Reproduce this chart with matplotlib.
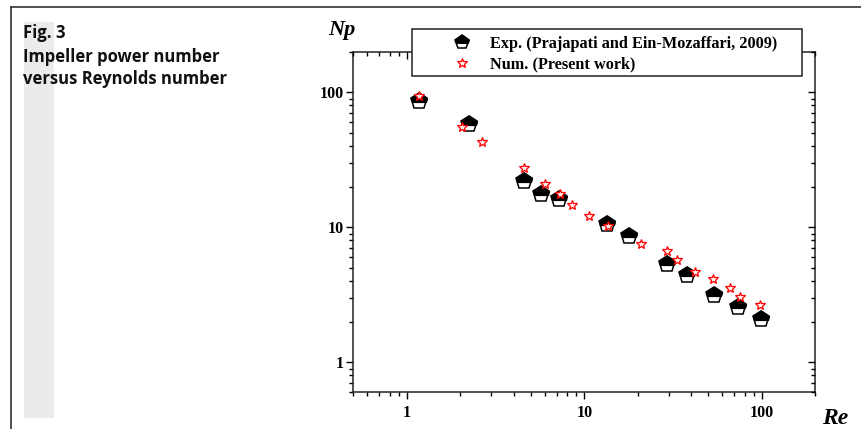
import matplotlib
matplotlib.use("Agg")
import matplotlib.pyplot as plt
from matplotlib.lines import Line2D
from matplotlib.patches import Rectangle
from matplotlib.path import Path
from matplotlib.legend_handler import HandlerTuple
from matplotlib.ticker import LogLocator, NullFormatter, FixedLocator, FixedFormatter

# ---- data ----
exp_re = [1.17, 2.24, 4.59, 5.68, 7.21, 13.35, 17.8, 29.1, 38.0, 53.8, 73.0, 99.3]
exp_np = [85.6, 58.5, 22.1, 17.7, 16.1, 10.6, 8.66, 5.31, 4.42, 3.14, 2.55, 2.11]

num_re = [1.17, 2.06, 2.66, 4.57, 6.03, 7.31, 8.51, 10.6, 13.6, 20.9, 29.1, 33.4,
          41.8, 53.4, 65.8, 75.5, 97.5]
num_np = [93.3, 54.9, 43.2, 27.6, 21.1, 17.6, 14.6, 12.2, 10.2, 7.52, 6.63, 5.75,
          4.63, 4.17, 3.54, 3.07, 2.66]

x_ticks = [1, 10, 100]
x_ticklabels = ["1", "10", "100"]
y_ticks = [1, 10, 100]
y_ticklabels = ["1", "10", "100"]

exp_label = "Exp. (Prajapati and Ein-Mozaffari, 2009)"
num_label = "Num. (Present work)"
title_lines = ["Fig. 3", "Impeller power number", "versus Reynolds number"]

W, H = 861, 429
fig = plt.figure(figsize=(W / 100, H / 100), dpi=100)

def fx(px):
    return px / W

def fy(py):
    return 1 - py / H

# outer frame lines and grey bar
fig.add_artist(Line2D([fx(11), 1.0], [fy(7.3), fy(7.3)], transform=fig.transFigure,
                      color="#333333", lw=1.2))
fig.add_artist(Line2D([fx(11), fx(11)], [fy(7.3), 0.0], transform=fig.transFigure,
                      color="#333333", lw=1.2))
fig.add_artist(Rectangle((fx(24), fy(418)), fx(54) - fx(24), fy(22) - fy(418),
                         transform=fig.transFigure, facecolor="#ebebeb",
                         edgecolor="none", zorder=0))

# title block
title_font = ["Open Sans", "DejaVu Sans"]
for line, base in zip(title_lines, [38.3, 61.7, 84.0]):
    fig.text(fx(23), fy(base), line, fontsize=12.0, fontweight="bold",
             family=title_font, va="baseline", ha="left", color="#111111")

# half-filled pentagon: white pentagon + black upper part
cut = -0.1
top_part = Path([(0, 1), (-0.951, 0.309), (-0.818, cut), (0.818, cut),
                 (0.951, 0.309), (0, 1)],
                [Path.MOVETO, Path.LINETO, Path.LINETO, Path.LINETO,
                 Path.LINETO, Path.CLOSEPOLY])

# axes
left, right, top, bottom = 353.3, 815.3, 51.7, 392.3
ax = fig.add_axes([fx(left), fy(bottom), fx(right) - fx(left), fy(top) - fy(bottom)])
ax.set_xscale("log")
ax.set_yscale("log")
ax.set_xlim(0.5, 200)
ax.set_ylim(0.6, 200)

serif = ["Liberation Serif", "DejaVu Serif"]
pent_ms = 12
star_ms = 7.8

ax.plot(exp_re, exp_np, linestyle="none", marker="p", markersize=pent_ms,
        markerfacecolor="white", markeredgecolor="black", markeredgewidth=1.1,
        zorder=3)
ax.plot(exp_re, exp_np, linestyle="none", marker=top_part, markersize=pent_ms,
        markerfacecolor="black", markeredgecolor="black", markeredgewidth=1.1,
        zorder=3)
ax.plot(num_re, num_np, linestyle="none", marker="*", markersize=star_ms,
        markerfacecolor="#fff0f0", markeredgecolor="red", markeredgewidth=0.9,
        zorder=4)

ax.xaxis.set_major_locator(FixedLocator(x_ticks))
ax.xaxis.set_major_formatter(FixedFormatter(x_ticklabels))
ax.yaxis.set_major_locator(FixedLocator(y_ticks))
ax.yaxis.set_major_formatter(FixedFormatter(y_ticklabels))
ax.xaxis.set_minor_locator(LogLocator(base=10, subs=range(2, 10), numticks=20))
ax.yaxis.set_minor_locator(LogLocator(base=10, subs=range(2, 10), numticks=20))
ax.xaxis.set_minor_formatter(NullFormatter())
ax.yaxis.set_minor_formatter(NullFormatter())

ax.tick_params(which="major", direction="out", length=5, width=1.0)
ax.tick_params(which="minor", direction="out", length=2.6, width=1.0)
ax.tick_params(axis="x", which="major", pad=4)
ax.tick_params(axis="y", which="major", pad=2)
for lab in ax.get_xticklabels() + ax.get_yticklabels():
    lab.set_family(serif)
    lab.set_fontweight("bold")
    lab.set_fontsize(11.5)
for sp in ax.spines.values():
    sp.set_linewidth(1.1)
    sp.set_color("#222222")

# mirrored inward ticks on top/right
axt = ax.twiny()
axt.set_xscale("log")
axt.set_xlim(ax.get_xlim())
axt.xaxis.set_major_locator(FixedLocator(x_ticks))
axt.xaxis.set_minor_locator(LogLocator(base=10, subs=range(2, 10), numticks=20))
axt.xaxis.set_major_formatter(NullFormatter())
axt.xaxis.set_minor_formatter(NullFormatter())
axt.tick_params(which="major", direction="in", length=5, width=1.0)
axt.tick_params(which="minor", direction="in", length=2.6, width=1.0)
for sp in axt.spines.values():
    sp.set_visible(False)

axr = ax.twinx()
axr.set_yscale("log")
axr.set_ylim(ax.get_ylim())
axr.yaxis.set_major_locator(FixedLocator(y_ticks))
axr.yaxis.set_minor_locator(LogLocator(base=10, subs=range(2, 10), numticks=20))
axr.yaxis.set_major_formatter(NullFormatter())
axr.yaxis.set_minor_formatter(NullFormatter())
axr.tick_params(which="major", direction="in", length=5, width=1.0)
axr.tick_params(which="minor", direction="in", length=2.6, width=1.0)
for sp in axr.spines.values():
    sp.set_visible(False)

# axis labels
fig.text(fx(355), fy(35), "Np", fontsize=16, fontweight="bold", fontstyle="italic",
         family=serif, ha="right", va="baseline")
fig.text(fx(848), fy(424), "Re", fontsize=17, fontweight="bold", fontstyle="italic",
         family=serif, ha="right", va="baseline")

# legend frame
fig.add_artist(Rectangle((fx(412.3), fy(76)), fx(802.3) - fx(412.3), fy(29.3) - fy(76),
                         transform=fig.transFigure, facecolor="white",
                         edgecolor="#222222", lw=1.1, zorder=5))
leg_pent_ms = 10
h_pw = Line2D([], [], linestyle="none", marker="p", markersize=leg_pent_ms,
              markerfacecolor="white", markeredgecolor="black", markeredgewidth=1.1)
h_pb = Line2D([], [], linestyle="none", marker=top_part, markersize=leg_pent_ms,
              markerfacecolor="black", markeredgecolor="black", markeredgewidth=1.1)
h_star = Line2D([], [], linestyle="none", marker="*", markersize=star_ms,
                markerfacecolor="#fff0f0", markeredgecolor="red", markeredgewidth=0.9)
leg = fig.legend([(h_pw, h_pb), h_star], [exp_label, num_label], loc="upper left",
                 bbox_to_anchor=(fx(454), fy(36)), bbox_transform=fig.transFigure,
                 frameon=False, borderpad=0, borderaxespad=0, handlelength=1.0,
                 handletextpad=1.2, labelspacing=0.3,
                 handler_map={tuple: HandlerTuple(ndivide=1)},
                 prop={"family": serif, "weight": "bold", "size": 11.7})
leg.set_zorder(6)

fig.savefig("out.png", dpi=100)
